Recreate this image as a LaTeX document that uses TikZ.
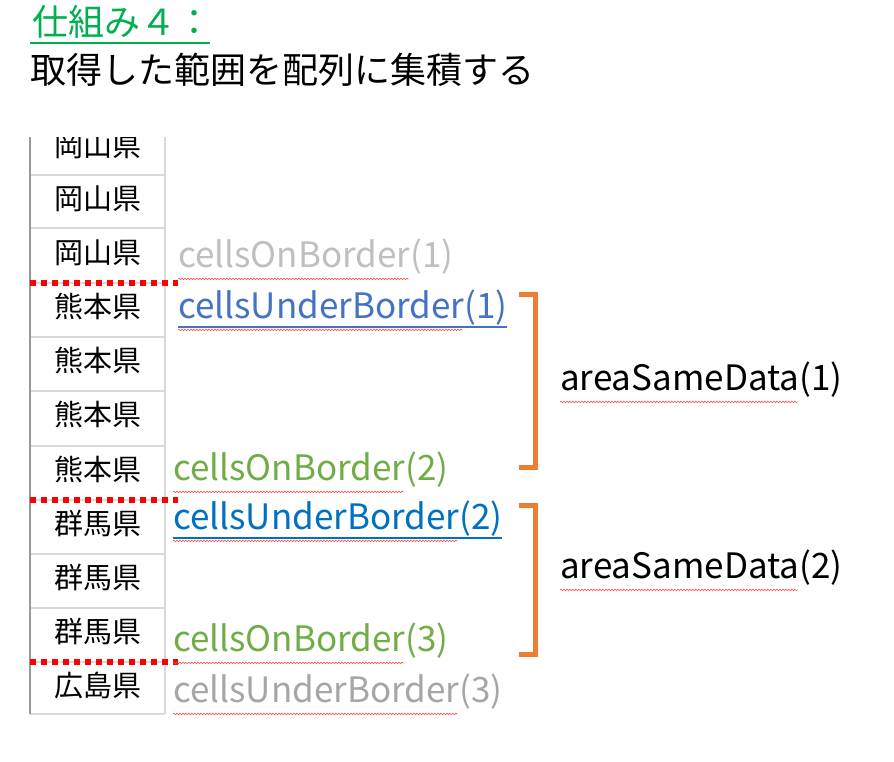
\documentclass[tikz,border=0pt]{standalone}
\usepackage{fontspec}
\setmainfont{Noto Sans CJK JP}
\usetikzlibrary{decorations.pathmorphing}
\definecolor{gridc}{HTML}{D9D9D9}
\definecolor{lgray}{HTML}{BFBFBF}
\definecolor{mgray}{HTML}{A6A6A6}
\definecolor{blueA}{HTML}{4472C4}
\definecolor{blueB}{HTML}{0070C0}
\definecolor{greenA}{HTML}{70AD47}
\definecolor{titleg}{HTML}{00B050}
\definecolor{orangeA}{HTML}{ED7D31}
\begin{document}
\begin{tikzpicture}[x=1pt,y=-1pt,
  cell/.style={font=\fontsize{29}{29}\selectfont, anchor=center},
  lbl/.style={font=\fontsize{35}{35}\selectfont, anchor=west, inner sep=0pt},
  border/.style={red, line width=5.5pt, dash pattern=on 6pt off 5pt},
  brk/.style={orangeA, line width=5pt},
  wav/.style={red!70, line width=0.6pt, decorate, decoration={snake, amplitude=0.8pt, segment length=3pt}}]
\useasboundingbox (0,0) rectangle (894,761);
% title
\node[anchor=west, inner sep=0pt, text=titleg, font=\fontsize{36}{36}\selectfont] (t1) at (32,22) {仕組み４：};
\draw[titleg, line width=1.2pt] (30,43) -- (210,43);
\node[anchor=west, inner sep=0pt, font=\fontsize{36}{36}\selectfont] (t2) at (30,70) {取得した範囲を配列に集積する};
% table
\begin{scope}
\clip (20,137) rectangle (180,720);
\foreach \y in {122,175,228,283,337,391,446,500,554,608,662,714}
  \draw[gridc, line width=1.5pt] (30,\y) -- (165,\y);
\draw[gridc, line width=1.5pt] (165,110) -- (165,714);
\end{scope}
\draw[gray!80, line width=2.5pt] (30,137) -- (30,714);
\foreach \t/\y [count=\i] in {岡山県/199,岡山県/253,熊本県/307,熊本県/361,熊本県/415,熊本県/469,群馬県/523,群馬県/577,群馬県/631,広島県/685}
  \node[cell] (c\i) at (98,\y) {\t};
\begin{scope}\clip (20,137) rectangle (180,720);\node[cell] (c0) at (98,146) {岡山県};\end{scope}
% borders
\draw[border] (30,283) -- (178,283);
\draw[border] (30,500) -- (178,500);
\draw[border] (30,662) -- (178,662);
% labels
\node[lbl, text=lgray] (l1) at (178,257) {cellsOnBorder(1)};
\node[lbl, text=blueA] (l2) at (178,308) {cellsUnderBorder(1)};
\node[lbl, text=greenA] (l3) at (173,470) {cellsOnBorder(2)};
\node[lbl, text=blueB] (l4) at (173,519) {cellsUnderBorder(2)};
\node[lbl, text=greenA] (l5) at (173,641) {cellsOnBorder(3)};
\node[lbl, text=mgray] (l6) at (173,692) {cellsUnderBorder(3)};
\draw[blueA, line width=1.2pt] ([yshift=-1pt]l2.south west) -- ([yshift=-1pt]l2.south east);
\draw[blueB, line width=1.2pt] ([yshift=-1pt]l4.south west) -- ([yshift=-1pt]l4.south east);
\foreach \n/\c in {l1/lgray,l2/blueA,l3/greenA,l4/blueB,l5/greenA,l6/mgray}
  \draw[wav] ([yshift=-4pt]\n.south west) -- ([yshift=-4pt,xshift=-45pt]\n.south east);
% brackets
\draw[brk] (519,294) -- (535,294) -- (535,467) -- (519,467);
\draw[brk] (519,505) -- (535,505) -- (535,654) -- (519,654);
\node[lbl] (a1) at (560,380) {areaSameData(1)};
\node[lbl] (a2) at (560,568) {areaSameData(2)};
\draw[wav] ([yshift=-4pt]a1.south west) -- ([yshift=-4pt,xshift=-45pt]a1.south east);
\draw[wav] ([yshift=-4pt]a2.south west) -- ([yshift=-4pt,xshift=-45pt]a2.south east);
\end{tikzpicture}
\end{document}
